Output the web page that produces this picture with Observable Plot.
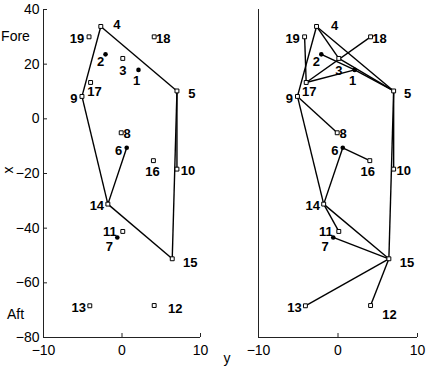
<!DOCTYPE html>
<html>
<head>
<meta charset="utf-8">
<script src="https://cdn.jsdelivr.net/npm/d3@7"></script>
<script src="https://cdn.jsdelivr.net/npm/@observablehq/plot@0.6"></script>
<style>
  html, body { margin: 0; padding: 0; background: #fff; }
  #wrap { display: flex; width: 427px; height: 371px; }
  #wrap svg { overflow: visible; }
</style>
</head>
<body>
<div id="wrap"></div>
<script>
// ---- data ----
const ids    = [1, 2, 3, 4, 5, 6, 7, 8, 9, 10, 11, 12, 13, 14, 15, 16, 17, 18, 19];
// horizontal coordinate ("y")
const yPos   = [2.1, -2.1, 0.1, -2.7, 7.0, 0.6, -0.6, -0.1, -5.1, 7.0, 0.1, 4.1, -4.1, -1.8, 6.4, 4.0, -4.0, 4.1, -4.2];
// vertical coordinate ("x", fore/aft)
const xPos   = [17.9, 23.6, 22.1, 33.8, 10.2, -10.6, -43.4, -5.1, 8.2, -18.4, -41.2, -68.3, -68.4, -31.2, -51.2, -15.3, 13.3, 30.0, 30.0];
const kind   = ["dot", "dot", "square", "square", "square", "dot", "dot", "square", "square", "square",
                "square", "square", "square", "square", "square", "square", "square", "square", "square"];
const leftEdges  = [[4, 5], [5, 10], [5, 15], [15, 14], [14, 9], [9, 4], [14, 6]];
const rightEdges = [[4, 5], [4, 3], [4, 9], [19, 17], [18, 17], [17, 1], [2, 1], [1, 5], [3, 5],
                    [9, 8], [9, 14], [5, 10], [5, 15], [6, 16], [6, 14], [14, 15], [14, 11],
                    [7, 15], [15, 13], [15, 12]];
const yTicks = [-10, 0, 10];
const xTicks = [-80, -60, -40, -20, 0, 20, 40];
const sideLabels = [{label: "Fore", x: 30}, {label: "Aft", x: -71.5}];
const vAxisLabel = "x";
const hAxisLabel = "y";

// ---- layout (label nudges in px, per point id) ----
const nudgeLeft = {1:[-2,11],2:[-5,8],3:[0,12],4:[16,-2],5:[15,3],6:[-8,3],7:[-8,9],8:[6,1],9:[-8,2],
  10:[11,2],11:[-13,0],12:[21,3],13:[-11,2],14:[-11,2],15:[18,4],16:[-1,11],17:[4,9],18:[9,2],19:[-12,2]};
const nudgeRight = Object.assign({}, nudgeLeft, {4:[18,-1], 5:[14,3], 10:[10,2], 12:[19,9], 16:[-2,11], 17:[3,9]});

const pts = ids.map((id, i) => ({id, y: yPos[i], x: xPos[i], kind: kind[i]}));
const byId = new Map(pts.map(p => [p.id, p]));
const toLinks = edges => edges.map(([a, b]) => ({a: byId.get(a), b: byId.get(b)}));

const font = "'Liberation Sans', Arial, Helvetica, sans-serif";

function pointMarks(nudge) {
  const squares = pts.filter(p => p.kind === "square");
  const dots = pts.filter(p => p.kind === "dot");
  return [
    Plot.dot(squares, {x: "y", y: "x", symbol: "square", r: 2.2, stroke: "#000", strokeWidth: 1, fill: "#fff"}),
    Plot.dot(dots, {x: "y", y: "x", r: 2.3, fill: "#000", stroke: "none"}),
    ...pts.map(p => Plot.text([p], {
      x: "y", y: "x", text: d => String(d.id),
      dx: nudge[p.id][0], dy: nudge[p.id][1],
      fontWeight: "bold", fontSize: 13, fill: "#000", textAnchor: "middle"
    }))
  ];
}

function linkMarks(edges) {
  return Plot.link(toLinks(edges), {
    x1: d => d.a.y, y1: d => d.a.x, x2: d => d.b.y, y2: d => d.b.x,
    stroke: "#000", strokeWidth: 1.4
  });
}

const common = {
  height: 371,
  marginTop: 9,
  marginBottom: 34,
  style: {fontFamily: font, fontSize: "14px", background: "transparent", color: "#000"}
};

const left = Plot.plot({
  ...common,
  width: 215,
  marginLeft: 43,
  marginRight: 15,
  x: {domain: [yTicks[0], yTicks[yTicks.length - 1]]},
  y: {domain: [xTicks[0], xTicks[xTicks.length - 1]]},
  marks: [
    Plot.ruleY([xTicks[0]], {stroke: "#222", strokeWidth: 1}),
    Plot.ruleX([yTicks[0]], {stroke: "#222", strokeWidth: 1}),
    Plot.axisX({ticks: yTicks, tickSize: -4, tickPadding: 12, label: null, fontSize: 14, stroke: "#222"}),
    Plot.axisY({ticks: xTicks, tickSize: -4, tickPadding: 8, label: null, fontSize: 14, stroke: "#222"}),
    Plot.text(sideLabels, {y: "x", text: "label", frameAnchor: "left", dx: -28, fontSize: 14, textAnchor: "middle"}),
    Plot.text([vAxisLabel], {frameAnchor: "left", dx: -35, rotate: -90, fontSize: 14}),
    linkMarks(leftEdges),
    ...pointMarks(nudgeLeft)
  ]
});

const right = Plot.plot({
  ...common,
  width: 212,
  marginLeft: 43,
  marginRight: 10,
  x: {domain: [yTicks[0], yTicks[yTicks.length - 1]]},
  y: {domain: [xTicks[0], xTicks[xTicks.length - 1]], axis: null},
  marks: [
    Plot.ruleY([xTicks[0]], {stroke: "#222", strokeWidth: 1}),
    Plot.ruleX([yTicks[0]], {stroke: "#222", strokeWidth: 1}),
    Plot.axisX({ticks: yTicks, tickSize: -4, tickPadding: 12, label: null, fontSize: 14, stroke: "#222"}),
    Plot.text([hAxisLabel], {frameAnchor: "bottom-left", dx: -35, dy: 25, fontSize: 14}),
    linkMarks(rightEdges),
    ...pointMarks(nudgeRight)
  ]
});

document.getElementById("wrap").append(left, right);
</script>
</body>
</html>
